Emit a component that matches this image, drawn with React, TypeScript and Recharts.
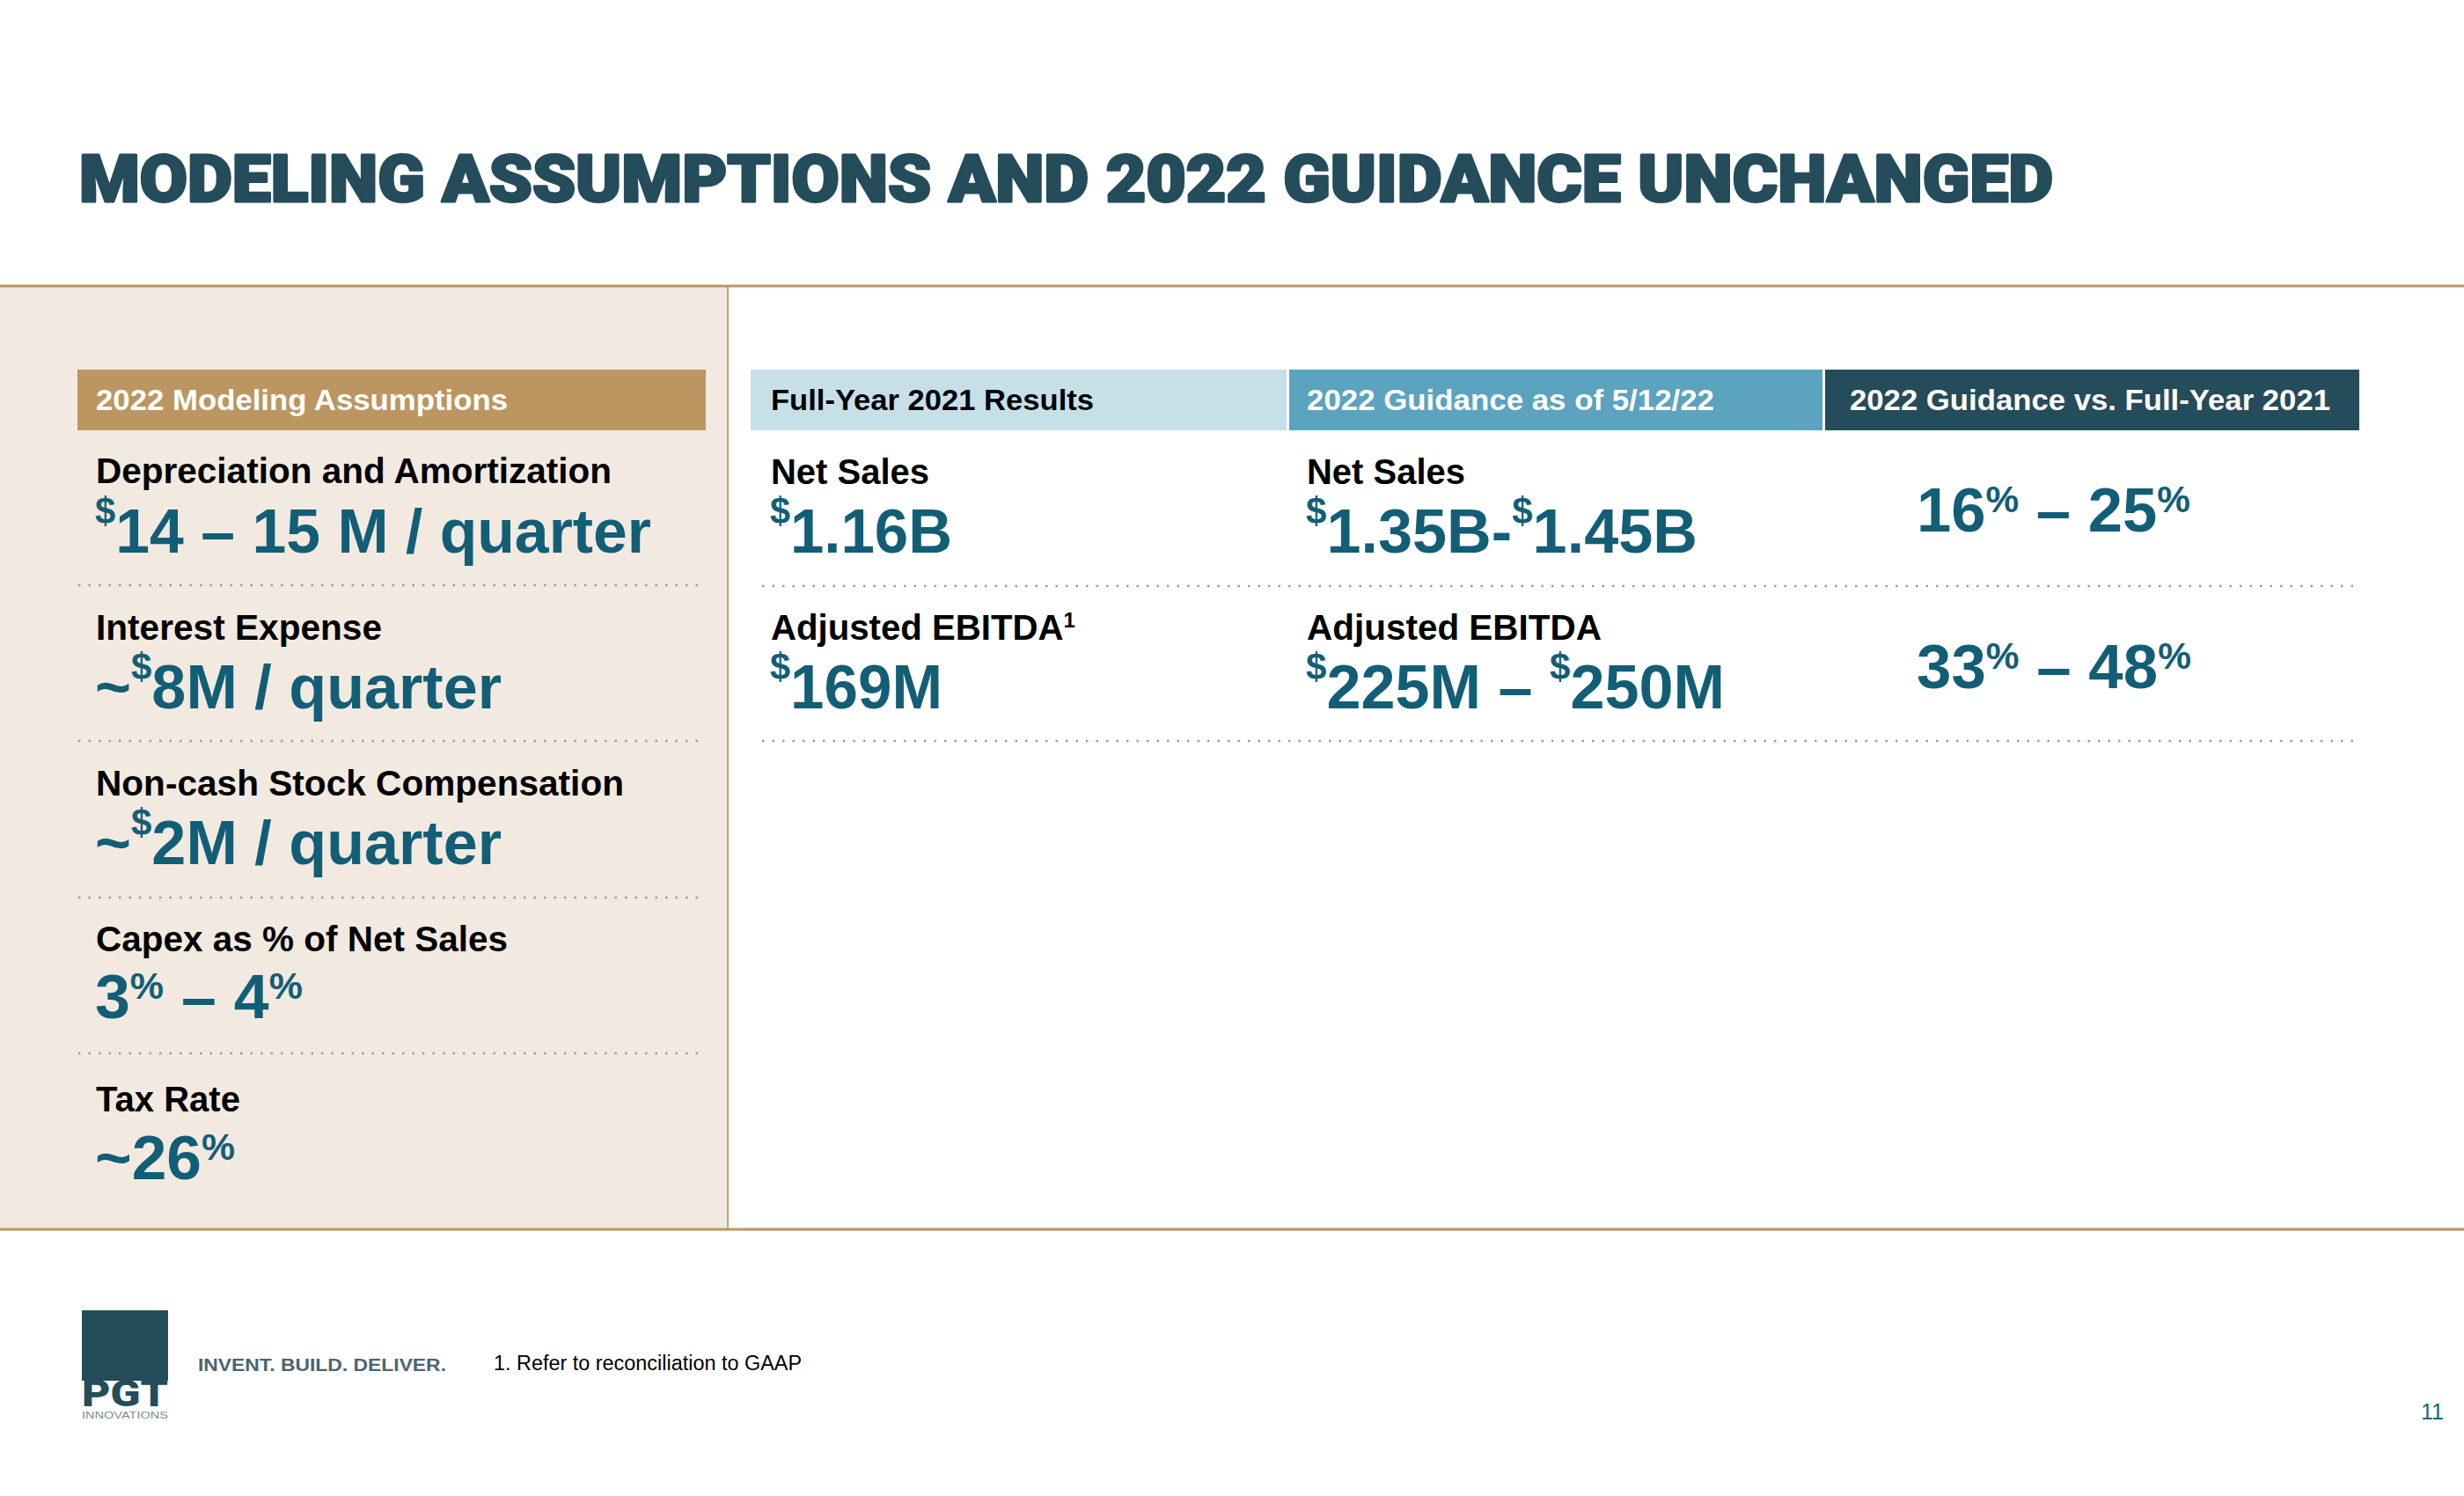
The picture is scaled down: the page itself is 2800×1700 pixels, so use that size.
import React from 'react';
import { Surface } from 'recharts';

// ---------- DATA ----------
const titleText = 'MODELING ASSUMPTIONS AND 2022 GUIDANCE UNCHANGED';
const leftHeader = '2022 Modeling Assumptions';
const leftLabels = [
  'Depreciation and Amortization',
  'Interest Expense',
  'Non-cash Stock Compensation',
  'Capex as % of Net Sales',
  'Tax Rate',
];
// "^" marks the next character as superscript
const leftValues = ['^$14 – 15 M / quarter', '~^$8M / quarter', '~^$2M / quarter', '3^% – 4^%', '~26^%'];

const tableHeaders = ['Full-Year 2021 Results', '2022 Guidance as of 5/12/22', '2022 Guidance vs. Full-Year 2021'];
const metricLabels2021 = ['Net Sales', 'Adjusted EBITDA^1'];
const metricValues2021 = ['^$1.16B', '^$169M'];
const metricLabels2022 = ['Net Sales', 'Adjusted EBITDA'];
const metricValues2022 = ['^$1.35B-^$1.45B', '^$225M – ^$250M'];
const changeValues = ['16^% – 25^%', '33^% – 48^%'];

const tagline = 'INVENT. BUILD. DELIVER.';
const logoText = 'PGT';
const logoSub = 'INNOVATIONS';
const footnote = '1. Refer to reconciliation to GAAP';
const pageNumber = '11';

// ---------- LAYOUT / STYLE ----------
const FONT = "'Liberation Sans', Arial, Helvetica, sans-serif";
const TEAL = '#135e77';
const DARK = '#254c5b';
const TAN = '#bc9660';
const BEIGE = '#f2eae0';

const leftLabelY = [549, 727, 904, 1081, 1263];
const leftValueY = [628, 805, 982, 1157, 1340];
const leftLabelW = [586, 325, 600, 468, 164];
const leftValueW = [632, 462, 462, 236, 159];
const leftDotY = [665, 842, 1020, 1197];

const headerX = [853, 1465, 2074];
const headerW = [609, 606, 607];
const headerFill = ['#c7e0e7', '#5ba3bf', DARK];
const headerTextFill = ['#000000', '#ffffff', '#ffffff'];
const headerTextX = [876, 1485, 2102];
const headerTextW = [367, 463, 546];

const rowLabelY = [550, 727];
const rowValueY = [628, 805];
const rowChangeY = [604, 782];
const label2021W = [180, 346];
const value2021W = [207, 196];
const label2022W = [180, 335];
const value2022W = [445, 476];
const changeW = [311, 312];
const rightDotY = [666, 842];

type Seg = { t: string; sup: boolean };
function parse(s: string): Seg[] {
  const out: Seg[] = [];
  let buf = '';
  for (let i = 0; i < s.length; i++) {
    if (s[i] === '^' && i + 1 < s.length) {
      if (buf) out.push({ t: buf, sup: false });
      buf = '';
      out.push({ t: s[i + 1], sup: true });
      i++;
    } else {
      buf += s[i];
    }
  }
  if (buf) out.push({ t: buf, sup: false });
  return out;
}

function supOffset(ch: string) {
  if (ch === '$') return 0.47;
  if (ch === '%') return 0.31;
  return 0.34;
}

function Rich(props: {
  x: number;
  y: number;
  text: string;
  fs: number;
  w?: number;
  fill: string;
  weight?: number | string;
  family?: string;
  ls?: number;
  stroke?: string;
  sw?: number;
}) {
  const segs = parse(props.text);
  let cur = 0;
  const spans = segs.map((sg, i) => {
    let dy = 0;
    let fsz = props.fs;
    if (sg.sup) {
      const off = supOffset(sg.t) * props.fs;
      dy = -off - cur;
      cur = -off;
      fsz = props.fs * 0.6;
    } else {
      dy = -cur;
      cur = 0;
    }
    return (
      <tspan key={i} dy={dy} fontSize={fsz}>
        {sg.t}
      </tspan>
    );
  });
  return (
    <text
      x={props.x}
      y={props.y}
      fontSize={props.fs}
      fontFamily={props.family || FONT}
      fontWeight={props.weight ?? 700}
      fill={props.fill}
      stroke={props.stroke}
      strokeWidth={props.sw}
      strokeLinejoin="round"
      letterSpacing={props.ls}
      textLength={props.w}
      lengthAdjust={props.w ? 'spacingAndGlyphs' : undefined}
    >
      {spans}
    </text>
  );
}

function Dots(props: { x1: number; x2: number; y: number }) {
  return (
    <line
      x1={props.x1}
      x2={props.x2}
      y1={props.y}
      y2={props.y}
      stroke="#a09b95"
      strokeWidth={2.5}
      strokeDasharray="2.5 9"
    />
  );
}

export default function App() {
  return (
    <div style={{ position: 'absolute', left: 0, top: 0, width: 2800, height: 1700, background: '#ffffff' }}>
      <Surface width={2800} height={1700} viewBox={{ x: 0, y: 0, width: 2800, height: 1700 }}>
        <rect x={0} y={0} width={2800} height={1700} fill="#ffffff" />
        {/* Title */}
        <Rich
          x={90}
          y={229}
          text={titleText}
          fs={74}
          w={2243}
          fill={DARK}
          weight={900}
          stroke={DARK}
          sw={3}
          family="Roboto, Lato, Inter, 'Liberation Sans', sans-serif"
        />

        {/* Left panel */}
        <rect x={0} y={326} width={827} height={1070} fill={BEIGE} />
        <line x1={827} x2={827} y1={326} y2={1396} stroke="#c4a374" strokeWidth={2} />
        <line x1={0} x2={2800} y1={325} y2={325} stroke={TAN} strokeWidth={3} />
        <line x1={0} x2={2800} y1={1397} y2={1397} stroke={TAN} strokeWidth={3} />

        <rect x={88} y={420} width={714} height={69} fill={TAN} />
        <Rich x={109} y={466} text={leftHeader} fs={34} w={468} fill="#ffffff" />

        {leftLabels.map((lab, i) => (
          <Rich key={'ll' + i} x={109} y={leftLabelY[i]} text={lab} fs={40} w={leftLabelW[i]} fill="#000000" />
        ))}
        {leftValues.map((v, i) => (
          <Rich key={'lv' + i} x={108} y={leftValueY[i]} text={v} fs={70} w={leftValueW[i]} fill={TEAL} />
        ))}
        {leftDotY.map((y, i) => (
          <Dots key={'ld' + i} x1={89} x2={802} y={y} />
        ))}

        {/* Right table */}
        {tableHeaders.map((h, i) => (
          <g key={'h' + i}>
            <rect x={headerX[i]} y={420} width={headerW[i]} height={69} fill={headerFill[i]} />
            <Rich x={headerTextX[i]} y={466} text={h} fs={34} w={headerTextW[i]} fill={headerTextFill[i]} />
          </g>
        ))}

        {metricLabels2021.map((lab, i) => (
          <Rich key={'a' + i} x={876} y={rowLabelY[i]} text={lab} fs={40} w={label2021W[i]} fill="#000000" />
        ))}
        {metricValues2021.map((v, i) => (
          <Rich key={'b' + i} x={875} y={rowValueY[i]} text={v} fs={70} w={value2021W[i]} fill={TEAL} />
        ))}
        {metricLabels2022.map((lab, i) => (
          <Rich key={'c' + i} x={1485} y={rowLabelY[i]} text={lab} fs={40} w={label2022W[i]} fill="#000000" />
        ))}
        {metricValues2022.map((v, i) => (
          <Rich key={'d' + i} x={1484} y={rowValueY[i]} text={v} fs={70} w={value2022W[i]} fill={TEAL} />
        ))}
        {changeValues.map((v, i) => (
          <Rich key={'e' + i} x={2178} y={rowChangeY[i]} text={v} fs={70} w={changeW[i]} fill={TEAL} />
        ))}
        {rightDotY.map((y, i) => (
          <Dots key={'rd' + i} x1={866} x2={2681} y={y} />
        ))}

        {/* Footer */}
        <rect x={93} y={1489} width={98} height={80} fill={DARK} />
        <Rich
          x={93}
          y={1598}
          text={logoText}
          fs={42}
          w={98}
          fill={DARK}
          weight={900}
          family="Roboto, 'Liberation Sans', sans-serif"
        />
        <Rich x={93} y={1612} text={logoSub} fs={10} w={98} fill="#7d8c94" weight={400} />
        <Rich x={225} y={1558} text={tagline} fs={20} w={282} fill="#4a6571" weight={700} />
        <Rich x={561} y={1557} text={footnote} fs={23} w={350} fill="#000000" weight={400} />
        <Rich x={2751} y={1613} text={pageNumber} fs={25} fill="#1a6680" weight={400} />
      </Surface>
    </div>
  );
}
